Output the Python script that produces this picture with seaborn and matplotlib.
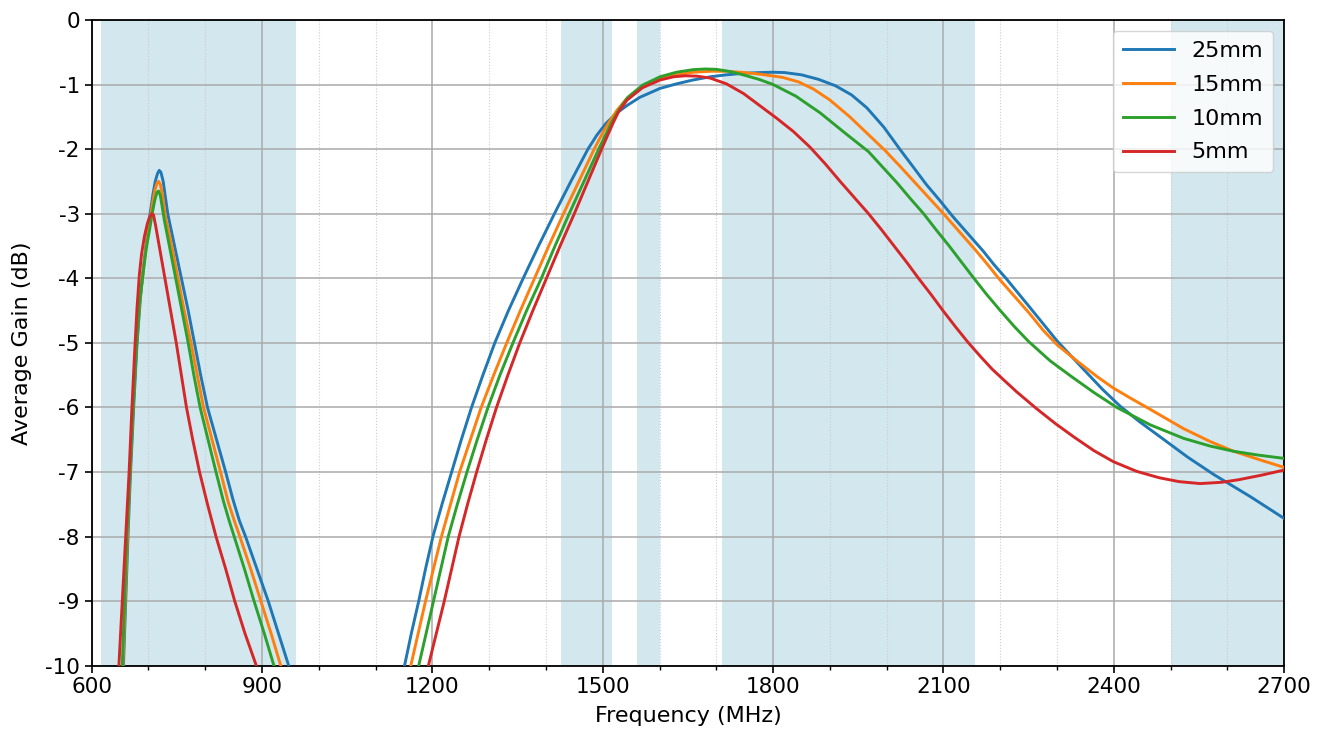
import pandas as pd
import numpy as np
import matplotlib
matplotlib.use("Agg")
import matplotlib.pyplot as plt
import seaborn as sns
from matplotlib.ticker import MultipleLocator

# Data (frequency in MHz, gain in dB)

labels = ["25mm", "15mm", "10mm", "5mm"]
colors = ["#1f77b4", "#ff7f0e", "#2ca02c", "#d62728"]

# shaded bands (MHz)
bands = [(617, 960), (1427, 1517), (1560, 1600), (1710, 2155), (2500, 2700)]

# low-frequency lobe
f25_low = [656, 660, 664, 668, 674, 680, 686, 691, 697, 703, 708, 712, 716, 719, 722, 726, 730, 734,
           746, 758, 770, 781, 792, 804, 820, 836, 849, 860, 871, 891, 911, 929, 947]
g25_low = [-10, -9, -8, -7.1, -6, -5, -4.3, -3.85, -3.4, -3.0, -2.7, -2.5, -2.38, -2.33, -2.36, -2.5, -2.75, -3.0,
           -3.5, -4, -4.5, -5, -5.5, -6, -6.5, -7, -7.43, -7.75, -8, -8.5, -9, -9.5, -10]

f15_low = [655, 659, 663, 667, 673, 679, 685, 690, 696, 702, 707, 711, 715, 718, 721, 725, 730,
           741, 752, 763, 775, 786, 797, 812, 827, 840, 851, 861, 880, 898, 916, 933]
g15_low = [-10, -9, -8, -7.1, -6, -5, -4.35, -3.95, -3.5, -3.15, -2.85, -2.65, -2.53, -2.5, -2.55, -2.72, -3.05,
           -3.5, -4, -4.5, -5, -5.5, -6, -6.5, -7, -7.45, -7.75, -8, -8.5, -9, -9.5, -10]

f10_low = [654, 658, 662, 667, 673, 679, 684, 690, 696, 702, 707, 711, 715, 718, 721, 724, 728,
           738, 748, 759, 770, 780, 791, 805, 819, 832, 842, 851, 869, 886, 904, 921]
g10_low = [-10, -9, -8, -7.1, -6, -5.06, -4.4, -3.97, -3.55, -3.25, -2.98, -2.8, -2.67, -2.65, -2.72, -2.88, -3.1,
           -3.55, -4, -4.5, -5, -5.5, -6, -6.5, -7, -7.45, -7.75, -8, -8.5, -9, -9.5, -10]

f5_low = [648, 654, 660, 666, 671, 676, 680, 684, 688, 693, 698, 702, 706, 709, 713, 720,
          729, 739, 749, 758, 767, 778, 790, 804, 819, 836, 852, 870, 890]
g5_low = [-10, -9, -8, -7, -6, -5.1, -4.45, -3.95, -3.62, -3.35, -3.16, -3.05, -3.0, -3.02, -3.2, -3.55,
          -4, -4.5, -5, -5.5, -6, -6.5, -7, -7.5, -8, -8.5, -9, -9.5, -10]

# high-frequency lobe
f25_high = [1151, 1163, 1176, 1188, 1201, 1217, 1234, 1251, 1269, 1289, 1310, 1334, 1360, 1387, 1415,
            1444, 1474, 1490, 1506, 1525, 1542, 1565, 1601, 1630, 1659, 1690, 1718, 1750, 1777, 1800,
            1820, 1850, 1880, 1910, 1938, 1965, 1995, 2023, 2047, 2070, 2094, 2117, 2145, 2170, 2190,
            2210, 2252, 2300, 2335, 2352, 2380, 2411, 2445, 2476, 2530, 2576, 2640, 2700]
g25_high = [-10, -9.5, -9, -8.5, -8, -7.5, -7, -6.5, -6, -5.5, -5, -4.5, -4, -3.5, -3,
            -2.5, -2.0, -1.78, -1.6, -1.44, -1.33, -1.2, -1.06, -0.99, -0.93, -0.88, -0.85, -0.825, -0.815, -0.81,
            -0.815, -0.85, -0.92, -1.02, -1.16, -1.36, -1.66, -2.0, -2.28, -2.55, -2.8, -3.05, -3.33, -3.58, -3.8,
            -4.0, -4.45, -4.97, -5.3, -5.46, -5.72, -5.98, -6.22, -6.42, -6.77, -7.04, -7.38, -7.72]

f15_high = [1162, 1175, 1188, 1202, 1216, 1232, 1248, 1267, 1286, 1308, 1331, 1355, 1380, 1405, 1431,
            1458, 1485, 1498, 1510, 1525, 1542, 1570, 1601, 1630, 1659, 1690, 1718, 1750, 1777, 1817,
            1845, 1871, 1900, 1935, 1966, 1997, 2025, 2050, 2075, 2100, 2130, 2156, 2177, 2197, 2225,
            2252, 2275, 2300, 2335, 2370, 2399, 2430, 2464, 2523, 2570, 2611, 2660, 2700]
g15_high = [-10, -9.5, -9, -8.5, -8, -7.5, -7, -6.5, -6, -5.5, -5, -4.5, -4, -3.5, -3,
            -2.5, -2.0, -1.78, -1.6, -1.4, -1.22, -1.03, -0.91, -0.85, -0.81, -0.795, -0.795, -0.815, -0.84, -0.89,
            -0.96, -1.07, -1.24, -1.5, -1.76, -2.02, -2.28, -2.52, -2.76, -3.0, -3.3, -3.56, -3.78, -4.0, -4.28,
            -4.55, -4.8, -5.03, -5.28, -5.52, -5.7, -5.86, -6.03, -6.33, -6.53, -6.68, -6.82, -6.93]

f10_high = [1176, 1189, 1202, 1215, 1228, 1244, 1261, 1279, 1298, 1319, 1342, 1366, 1392, 1416, 1441,
            1467, 1493, 1504, 1515, 1528, 1544, 1570, 1601, 1630, 1659, 1680, 1700, 1725, 1747, 1775,
            1800, 1840, 1883, 1925, 1968, 1993, 2018, 2042, 2065, 2088, 2110, 2130, 2150, 2175, 2200,
            2225, 2250, 2288, 2325, 2365, 2405, 2464, 2523, 2570, 2611, 2655, 2700]
g10_high = [-10, -9.5, -9, -8.5, -8, -7.5, -7, -6.5, -6, -5.5, -5, -4.5, -4, -3.5, -3,
            -2.5, -2.0, -1.8, -1.6, -1.4, -1.2, -1.01, -0.88, -0.81, -0.77, -0.76, -0.765, -0.8, -0.85, -0.92,
            -1.0, -1.18, -1.44, -1.74, -2.04, -2.28, -2.52, -2.77, -3.0, -3.26, -3.5, -3.73, -3.96, -4.24, -4.5,
            -4.75, -4.98, -5.28, -5.52, -5.77, -6.0, -6.27, -6.48, -6.6, -6.68, -6.74, -6.79]

f5_high = [1193, 1207, 1221, 1234, 1247, 1262, 1278, 1295, 1313, 1333, 1354, 1377, 1401, 1425, 1450,
           1474, 1498, 1508, 1518, 1528, 1543, 1570, 1601, 1625, 1645, 1665, 1689, 1718, 1748, 1777,
           1806, 1836, 1865, 1892, 1918, 1943, 1968, 1991, 2013, 2035, 2056, 2078, 2099, 2121, 2143,
           2165, 2186, 2208, 2229, 2264, 2297, 2330, 2365, 2399, 2440, 2480, 2515, 2552, 2590, 2620, 2660, 2700]
g5_high = [-10, -9.5, -9, -8.5, -8, -7.5, -7, -6.5, -6, -5.5, -5, -4.5, -4, -3.5, -3,
           -2.5, -2.0, -1.8, -1.6, -1.42, -1.24, -1.05, -0.93, -0.88, -0.865, -0.87, -0.9, -0.99, -1.14, -1.33,
           -1.52, -1.73, -1.97, -2.23, -2.5, -2.75, -3.0, -3.25, -3.5, -3.75, -4.0, -4.25, -4.5, -4.75, -4.99,
           -5.21, -5.41, -5.59, -5.76, -6.02, -6.25, -6.46, -6.67, -6.84, -6.99, -7.09, -7.15, -7.18, -7.16, -7.12, -7.05, -6.97]

x_ticks = [600, 900, 1200, 1500, 1800, 2100, 2400, 2700]
y_ticks = list(range(-10, 1))

# long-form table
series = {
    "25mm": [(f25_low, g25_low), (f25_high, g25_high)],
    "15mm": [(f15_low, g15_low), (f15_high, g15_high)],
    "10mm": [(f10_low, g10_low), (f10_high, g10_high)],
    "5mm": [(f5_low, g5_low), (f5_high, g5_high)],
}
rows = []
for name, parts in series.items():
    for seg, (f, g) in enumerate(parts):
        for fi, gi in zip(f, g):
            rows.append({"freq": fi, "gain": gi, "size": name, "seg": f"{name}_{seg}"})
df = pd.DataFrame(rows)

plt.rcParams["axes.unicode_minus"] = False
fig, ax = plt.subplots(figsize=(13.28, 7.38), dpi=100)
fig.subplots_adjust(left=0.069, right=0.967, top=0.973, bottom=0.098)

for lo, hi in bands:
    ax.axvspan(lo, hi, color="#d3e7ef", zorder=0, lw=0)

sns.lineplot(data=df, x="freq", y="gain", hue="size", hue_order=labels,
             palette=colors, units="seg", estimator=None, sort=False,
             linewidth=2.1, ax=ax, zorder=3)

ax.set_xlim(600, 2700)
ax.set_ylim(-10, 0)
ax.set_xticks(x_ticks)
ax.set_yticks(y_ticks)
ax.xaxis.set_minor_locator(MultipleLocator(100))
ax.grid(True, which="major", color="#aaaaaa", linewidth=1.1, zorder=1)
ax.grid(True, which="minor", axis="x", color="#cccccc", linewidth=0.8, linestyle=":", zorder=1)
ax.tick_params(axis="both", which="major", labelsize=15.5, length=5, width=1.2)
ax.tick_params(axis="x", which="minor", length=3, width=1)
for s in ax.spines.values():
    s.set_linewidth(1.3)

ax.set_xlabel("Frequency (MHz)", fontsize=16, labelpad=6)
ax.set_ylabel("Average Gain (dB)", fontsize=16, labelpad=9)

ax.legend(loc="upper right", fontsize=16, handlelength=2.3, labelspacing=0.62,
          borderpad=0.45, framealpha=0.8, title=None)

plt.savefig("out.png", dpi=100)
